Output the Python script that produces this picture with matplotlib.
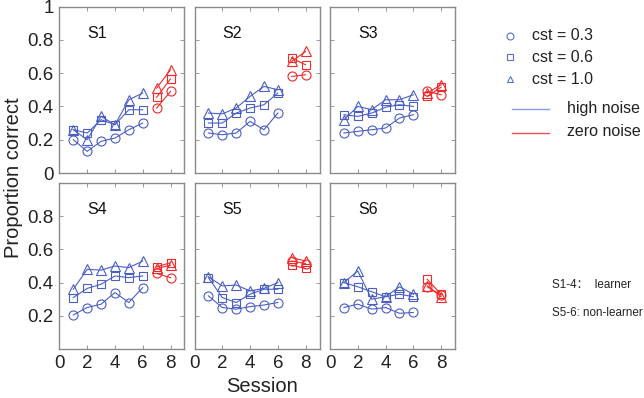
import matplotlib
matplotlib.use("Agg")
import matplotlib.pyplot as plt
from matplotlib.lines import Line2D

plt.rcParams['font.family'] = ['Liberation Sans', 'DejaVu Sans']

subjects = ["S1", "S2", "S3", "S4", "S5", "S6"]
sessions_hi = [1, 2, 3, 4, 5, 6]
sessions_zero = [7, 8]

# high-noise (blue) data: circle = cst 0.3, square = cst 0.6, triangle = cst 1.0
hi_c03 = [
    [0.20, 0.13, 0.19, 0.21, 0.26, 0.30],
    [0.24, 0.23, 0.24, 0.31, 0.26, 0.36],
    [0.24, 0.25, 0.26, 0.27, 0.33, 0.35],
    [0.205, 0.25, 0.27, 0.34, 0.28, 0.37],
    [0.32, 0.25, 0.24, 0.255, 0.265, 0.28],
    [0.25, 0.27, 0.24, 0.25, 0.215, 0.22],
]
hi_c06 = [
    [0.26, 0.24, 0.32, 0.29, 0.38, 0.38],
    [0.30, 0.30, 0.36, 0.39, 0.41, 0.48],
    [0.35, 0.34, 0.36, 0.395, 0.41, 0.40],
    [0.31, 0.365, 0.39, 0.44, 0.43, 0.44],
    [0.43, 0.31, 0.28, 0.33, 0.36, 0.36],
    [0.40, 0.375, 0.345, 0.315, 0.33, 0.315],
]
hi_c10 = [
    [0.26, 0.20, 0.34, 0.29, 0.44, 0.48],
    [0.36, 0.355, 0.39, 0.46, 0.52, 0.50],
    [0.32, 0.40, 0.38, 0.44, 0.44, 0.47],
    [0.36, 0.48, 0.475, 0.50, 0.49, 0.53],
    [0.435, 0.38, 0.385, 0.35, 0.365, 0.40],
    [0.40, 0.47, 0.30, 0.315, 0.375, 0.33],
]
# zero-noise (red) data, sessions 7-8
zero_c03 = [
    [0.39, 0.49],
    [0.58, 0.59],
    [0.49, 0.47],
    [0.455, 0.43],
    [0.53, 0.515],
    [0.375, 0.325],
]
zero_c06 = [
    [0.455, 0.565],
    [0.69, 0.65],
    [0.46, 0.515],
    [0.495, 0.52],
    [0.505, 0.485],
    [0.42, 0.33],
]
zero_c10 = [
    [0.51, 0.62],
    [0.67, 0.73],
    [0.48, 0.53],
    [0.485, 0.505],
    [0.55, 0.53],
    [0.38, 0.315],
]

xticks = [0, 2, 4, 6, 8]
yticks_top = [0, 0.2, 0.4, 0.6, 0.8, 1.0]
yticklabels_top = ["0", "0.2", "0.4", "0.6", "0.8", "1"]
yticks_bot = [0.2, 0.4, 0.6, 0.8]
yticklabels_bot = ["0.2", "0.4", "0.6", "0.8"]

BLUE = '#4a5ec4'
RED = '#f02828'
FRAME = '#8a8a8a'
TXT = '#222222'

W, H = 644, 398
fig = plt.figure(figsize=(W / 100, H / 100), dpi=100)

lefts = [59.4, 194.5, 330.0]
aw = 125.0
rows = [(6.5, 166.5), (183.0, 166.0)]

markers = ['o', 's', '^']
msizes = [6.5, 5.5, 7.0]

for i, subj in enumerate(subjects):
    r, c = divmod(i, 3)
    top, ah = rows[r]
    ax = fig.add_axes([lefts[c] / W, 1 - (top + ah) / H, aw / W, ah / H])
    for ys, m, ms in zip([hi_c03[i], hi_c06[i], hi_c10[i]], markers, msizes):
        ax.plot(sessions_hi, ys, color=BLUE, lw=0.8, marker=m, ms=ms,
                mfc='none', mec=BLUE, mew=0.8)
    for ys, m, ms in zip([zero_c03[i], zero_c06[i], zero_c10[i]], markers, msizes):
        ax.plot(sessions_zero, ys, color=RED, lw=0.8, marker=m, ms=ms,
                mfc='none', mec=RED, mew=0.8)
    ax.set_xlim(0, 9)
    ax.set_ylim(0, 1)
    ax.set_xticks(xticks)
    if r == 0:
        ax.set_yticks(yticks_top)
        ax.set_yticklabels(yticklabels_top)
        ax.set_xticklabels([])
    else:
        ax.set_yticks(yticks_bot)
        ax.set_yticklabels(yticklabels_bot)
        ax.set_xticklabels([str(t) for t in xticks])
    if c != 0:
        ax.set_yticklabels([])
    ax.tick_params(direction='in', length=3, width=0.6, color=FRAME,
                   top=True, right=True, labelsize=13.5, labelcolor=TXT, pad=4)
    for s in ax.spines.values():
        s.set_color(FRAME)
        s.set_linewidth(1.0)
    ax.text(0.225, 0.84, subj, transform=ax.transAxes, fontsize=11.5,
            color='#111111', ha='left', va='center')

# overlay axes in pixel coordinates for labels and legend
ov = fig.add_axes([0, 0, 1, 1], facecolor='none')
ov.set_xlim(0, W)
ov.set_ylim(H, 0)
ov.axis('off')

ov.text(14, 178, "Proportion correct", rotation=90, fontsize=14.5,
        ha='center', va='center', color=TXT)
ov.text(262, 386, "Session", fontsize=14.5, ha='center', va='center', color=TXT)

leg_labels = ["cst = 0.3", "cst = 0.6", "cst = 1.0"]
leg_y = [36, 57, 79]
for m, lab, yy in zip(markers, leg_labels, leg_y):
    ov.add_line(Line2D([510], [yy], marker=m, ms=5, mfc='none', mec='#5a70cc',
                       mew=0.8, ls='none'))
    ov.text(532, yy, lab, fontsize=11.5, va='center', ha='left', color=TXT)

ov.add_line(Line2D([512, 549], [109, 109], color='#8a9ce0', lw=1.0))
ov.text(567, 108, "high noise", fontsize=11.5, va='center', ha='left', color=TXT)
ov.add_line(Line2D([512, 549], [133, 133], color='#ee5050', lw=1.0))
ov.text(567, 132, "zero noise", fontsize=11.5, va='center', ha='left', color=TXT)

ov.text(552, 285, "S1-4：  learner", fontsize=8.4, va='center', ha='left', color=TXT,
        family=['Liberation Sans', 'Noto Sans CJK SC', 'DejaVu Sans'])
ov.text(552, 313, "S5-6: non-learner", fontsize=8.4, va='center', ha='left', color=TXT)

fig.savefig("out.png", dpi=100)
